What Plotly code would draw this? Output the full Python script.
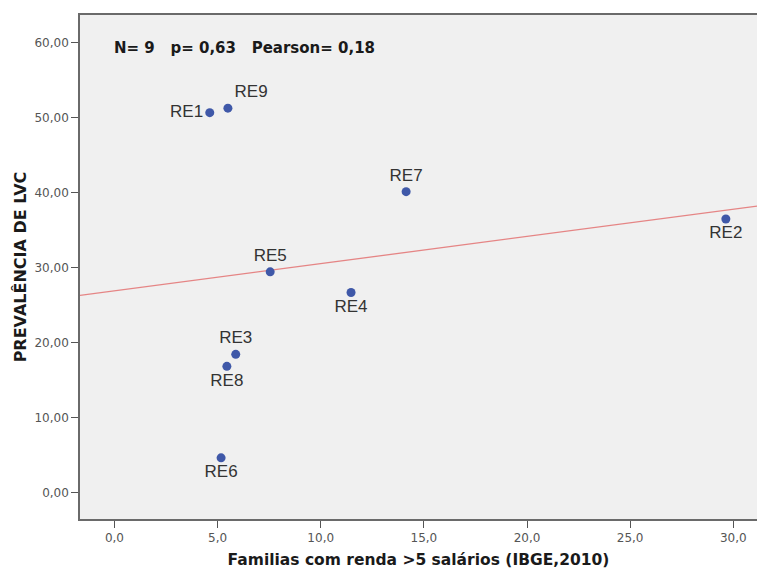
import numpy as np
import plotly.graph_objects as go

# Regiões (labels), % families with income > 5 minimum wages, LVC prevalence
regioes = ["RE1", "RE2", "RE3", "RE4", "RE5", "RE6", "RE7", "RE8", "RE9"]
renda = [4.62, 29.64, 5.88, 11.47, 7.55, 5.17, 14.14, 5.45, 5.50]
prevalencia = [50.7, 36.52, 18.48, 26.73, 29.48, 4.68, 40.17, 16.88, 51.3]
posicoes = ["middle left", "bottom center", "top center", "bottom center",
            "top center", "bottom center", "top center", "bottom center", "top right"]

x_ticks = [0, 5, 10, 15, 20, 25, 30]
y_ticks = [0, 10, 20, 30, 40, 50, 60]
x_range = [-1.67, 31.15]
y_range = [-3.47, 63.72]

stats_text = "N= 9   p= 0,63   Pearson= 0,18"

WIDE = "DejaVu Sans, Verdana, sans-serif"
LABEL = "Liberation Sans, Arial, sans-serif"

# Least-squares fit line across the whole x range
slope, intercept = np.polyfit(renda, prevalencia, 1)
fit_x = np.array(x_range)
fit_y = intercept + slope * fit_x

fig = go.Figure()
fig.add_trace(go.Scatter(
    x=fit_x, y=fit_y, mode="lines",
    line=dict(color="#e58585", width=1.3),
    hoverinfo="skip", showlegend=False,
))
fig.add_trace(go.Scatter(
    x=renda, y=prevalencia, mode="markers+text",
    text=regioes, textposition=posicoes,
    textfont=dict(family=LABEL, size=17, color="#333333"),
    marker=dict(color="#3f58a8", size=9),
    showlegend=False,
))

fig.add_annotation(
    x=0.047, y=0.935, xref="paper", yref="paper",
    xanchor="left", yanchor="middle", showarrow=False,
    text="<b>%s</b>" % stats_text,
    font=dict(family=WIDE, size=15, color="#1a1a1a"),
)

axis_common = dict(
    showline=True, linecolor="#6a6a6a", linewidth=1.5,
    ticks="outside", ticklen=7, tickcolor="#555555", tickwidth=1,
    showgrid=False, zeroline=False,
    tickfont=dict(family=WIDE, size=12, color="#555555"),
)

fig.update_xaxes(
    range=x_range, tickvals=x_ticks, tickformat=".1f", mirror=True,
    title=dict(text="<b>Familias com renda >5 salários (IBGE,2010)</b>",
               font=dict(family=WIDE, size=15.5, color="#1a1a1a"), standoff=10),
    **axis_common,
)
fig.update_yaxes(
    range=y_range, tickvals=y_ticks, tickformat=".2f",
    title=dict(text="<b>PREVALÊNCIA DE LVC</b>",
               font=dict(family=WIDE, size=16, color="#1a1a1a"), standoff=4),
    **axis_common,
)

fig.update_layout(
    width=757, height=573,
    margin=dict(l=80, r=0, t=15, b=54),
    plot_bgcolor="#f0f0f0", paper_bgcolor="#ffffff",
    separators=",.",
)

fig.write_html("out.html")
